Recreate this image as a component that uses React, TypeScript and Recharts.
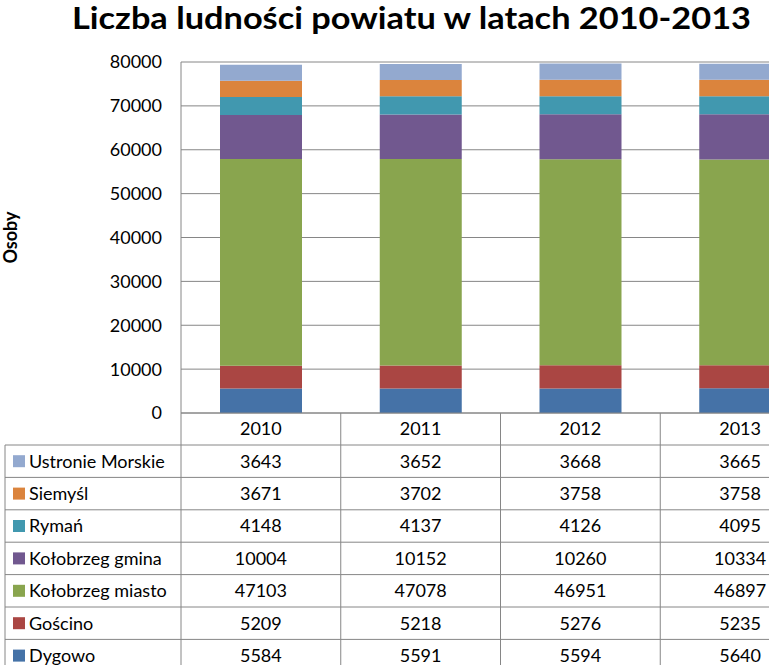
import React from 'react';
import { BarChart, Bar, XAxis, YAxis, CartesianGrid, Label } from 'recharts';

const years = ['2010', '2011', '2012', '2013'];
const dygowo = [5584, 5591, 5594, 5640];
const goscino = [5209, 5218, 5276, 5235];
const kolobrzegMiasto = [47103, 47078, 46951, 46897];
const kolobrzegGmina = [10004, 10152, 10260, 10334];
const ryman = [4148, 4137, 4126, 4095];
const siemysl = [3671, 3702, 3758, 3758];
const ustronie = [3643, 3652, 3668, 3665];
const yTicks = [0, 10000, 20000, 30000, 40000, 50000, 60000, 70000, 80000];

const series = [
  { key: 'dygowo', name: 'Dygowo', values: dygowo, color: '#4572A7' },
  { key: 'goscino', name: 'Gościno', values: goscino, color: '#AA4643' },
  { key: 'kolMiasto', name: 'Kołobrzeg miasto', values: kolobrzegMiasto, color: '#89A54E' },
  { key: 'kolGmina', name: 'Kołobrzeg gmina', values: kolobrzegGmina, color: '#71588F' },
  { key: 'ryman', name: 'Rymań', values: ryman, color: '#4198AF' },
  { key: 'siemysl', name: 'Siemyśl', values: siemysl, color: '#DB843D' },
  { key: 'ustronie', name: 'Ustronie Morskie', values: ustronie, color: '#93A9CF' },
];

const data = years.map((y, i) => {
  const row: Record<string, any> = { year: y };
  series.forEach((s) => {
    row[s.key] = s.values[i];
  });
  return row;
});

const FONT = 'Lato, "Liberation Sans", sans-serif';
const LINE = '#868686';
const CHART_W = 830;
const CHART_H = 665;
const AXIS_W = 181;
const MARGIN_R = 10;
const PLOT_BOTTOM = 413;
const HEADER_BOTTOM = 445;
const ROW_H = 32.4;
const TABLE_LEFT = 5;
const BAND = (CHART_W - AXIS_W - MARGIN_R) / years.length;

const tableRows = [...series].reverse();

const TableTick = (props: any) => {
  const { x, payload, index } = props;
  const left = x - BAND / 2;
  const right = x + BAND / 2;
  const els: React.ReactNode[] = [];
  els.push(
    <text key="h" x={x} y={(PLOT_BOTTOM + HEADER_BOTTOM) / 2} dy="0.36em" textAnchor="middle"
      fontSize={18} fontFamily={FONT} fill="#000">{payload.value}</text>
  );
  els.push(<line key="vr" x1={right} x2={right} y1={PLOT_BOTTOM} y2={CHART_H} stroke={LINE} strokeWidth={1} />);
  tableRows.forEach((s, r) => {
    const top = HEADER_BOTTOM + r * ROW_H;
    const yr = years.indexOf(payload.value);
    els.push(<line key={'hl' + r} x1={left} x2={right} y1={top} y2={top} stroke={LINE} strokeWidth={1} />);
    els.push(
      <text key={'v' + r} x={x} y={top + ROW_H / 2} dy="0.36em" textAnchor="middle"
        fontSize={18} fontFamily={FONT} fill="#000">{s.values[yr]}</text>
    );
  });
  if (index === 0) {
    els.push(<line key="vl" x1={left} x2={left} y1={PLOT_BOTTOM} y2={CHART_H} stroke={LINE} strokeWidth={1} />);
    els.push(<line key="vt" x1={TABLE_LEFT} x2={TABLE_LEFT} y1={HEADER_BOTTOM} y2={CHART_H} stroke={LINE} strokeWidth={1} />);
    tableRows.forEach((s, r) => {
      const top = HEADER_BOTTOM + r * ROW_H;
      const cy = top + ROW_H / 2;
      els.push(<line key={'lhl' + r} x1={TABLE_LEFT} x2={left} y1={top} y2={top} stroke={LINE} strokeWidth={1} />);
      els.push(<rect key={'lr' + r} x={13} y={cy - 6} width={12} height={12} fill={s.color} />);
      els.push(
        <text key={'lt' + r} x={29} y={cy} dy="0.36em" textAnchor="start"
          fontSize={18} fontFamily={FONT} fill="#000">{s.name}</text>
      );
    });
  }
  return <g>{els}</g>;
};

export default function App() {
  return (
    <div style={{ position: 'absolute', left: 0, top: 0, width: 769, height: 665, overflow: 'hidden', background: '#fff' }}>
      <BarChart
        width={CHART_W}
        height={CHART_H}
        data={data}
        margin={{ top: 62, right: MARGIN_R, bottom: 0, left: 0 }}
        barSize={82}
      >
        <CartesianGrid vertical={false} stroke={LINE} strokeWidth={1} />
        <XAxis
          dataKey="year"
          height={CHART_H - PLOT_BOTTOM}
          axisLine={{ stroke: LINE }}
          tickLine={false}
          interval={0}
          tick={<TableTick />}
        />
        <YAxis
          width={AXIS_W}
          domain={[0, 80000]}
          ticks={yTicks}
          axisLine={{ stroke: LINE }}
          tickLine={false}
          tickSize={0}
          tickMargin={19}
          tick={{ fill: '#000', fontSize: 18, fontFamily: FONT }}
        >
          <Label
            content={(p: any) => {
              const vb = p.viewBox || { x: 0, y: 62, height: 351 };
              const cx = 11;
              const cy = vb.y + vb.height / 2;
              return (
                <text x={cx} y={cy} transform={`rotate(-90 ${cx} ${cy})`} textAnchor="middle" dy="0.36em"
                  fontSize={18} fontWeight="bold" fontFamily={FONT} fill="#000">Osoby</text>
              );
            }}
          />
        </YAxis>
        {series.map((s) => (
          <Bar key={s.key} dataKey={s.key} name={s.name} stackId="a" fill={s.color} isAnimationActive={false} />
        ))}
      </BarChart>
      <svg width={769} height={50} style={{ position: 'absolute', left: 0, top: 0 }}>
        <text x={72} y={29} textLength={679} lengthAdjust="spacingAndGlyphs" fontSize={30} fontWeight="bold"
          fontFamily={FONT} fill="#000">Liczba ludności powiatu w latach 2010-2013</text>
      </svg>
    </div>
  );
}
